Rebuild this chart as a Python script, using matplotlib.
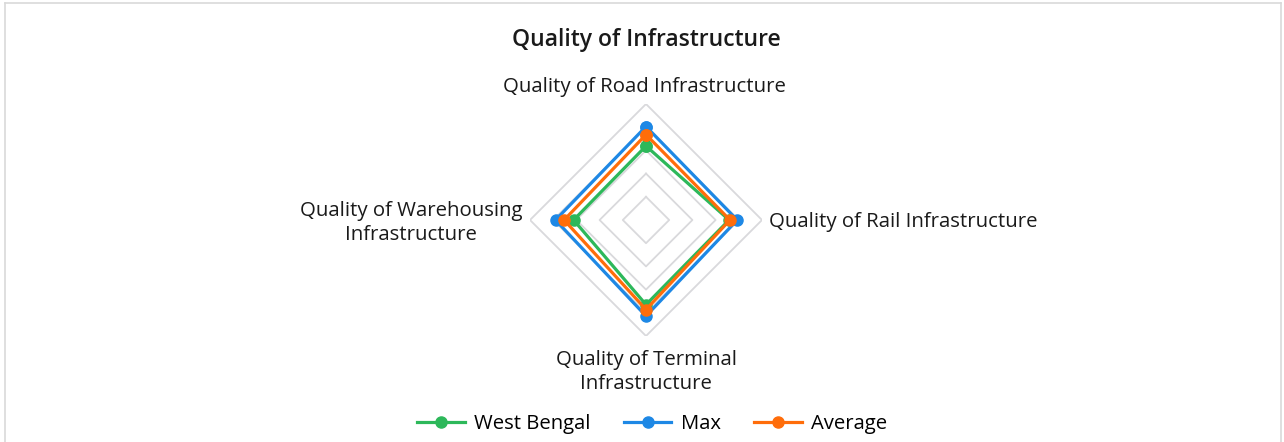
import numpy as np
import matplotlib
matplotlib.use("Agg")
import matplotlib.pyplot as plt
from matplotlib.lines import Line2D

categories = ["Quality of Road Infrastructure", "Quality of Rail Infrastructure",
              "Quality of Terminal\nInfrastructure", "Quality of Warehousing\nInfrastructure"]
west_bengal = [3.19, 3.58, 3.65, 3.12]
max_vals = [4.03, 3.93, 4.14, 3.90]
average = [3.68, 3.62, 3.86, 3.53]
series_names = ["West Bengal", "Max", "Average"]
colors = ["#2db85a", "#1e88e5", "#ff6d0a"]
ring_levels = [1, 2, 3, 4, 5]

plt.rcParams['font.family'] = ['Open Sans', 'DejaVu Sans']

W, H = 1284, 442
fig = plt.figure(figsize=(W / 100, H / 100), dpi=100)
cx, cy, R = 646, 220, 116
ax = fig.add_axes([(cx - R) / W, (H - cy - R) / H, 2 * R / W, 2 * R / H], projection='polar')
ax.set_theta_offset(np.pi / 2)
ax.set_theta_direction(-1)
ax.set_ylim(0, 5)
ax.grid(False)
ax.set_xticks([])
ax.set_yticks([])
ax.spines['polar'].set_visible(False)
ax.patch.set_alpha(0)

n = len(categories)
theta = np.linspace(0, 2 * np.pi, n, endpoint=False)
tc = np.append(theta, theta[0])
for lv in ring_levels:
    ax.plot(tc, [lv] * (n + 1), color="#d9d9dc", lw=1.3, zorder=1)

for vals, c, name in zip([west_bengal, max_vals, average], colors, series_names):
    v = np.append(vals, vals[0])
    ax.plot(tc, v, color=c, lw=2.3, marker='o', markersize=8, zorder=3, label=name)

# category labels
fs = 14.7
tcol = '#1a1a1a'
fig.text(644 / W, 1 - 87 / H, categories[0], ha='center', va='center', fontsize=fs, color=tcol)
fig.text(769 / W, 1 - 222 / H, categories[1], ha='left', va='center', fontsize=fs, color=tcol)
fig.text(646 / W, 1 - 372 / H, categories[2], ha='center', va='center', fontsize=fs, color=tcol,
         linespacing=1.27, multialignment='center')
fig.text(411 / W, 1 - 223 / H, categories[3], ha='center', va='center', fontsize=fs, color=tcol,
         linespacing=1.27, multialignment='center')

fig.text(646 / W, 1 - 40 / H, "Quality of Infrastructure", ha='center', va='center',
         fontsize=16.5, fontweight='semibold', color=tcol)

handles = [Line2D([0], [0], color=c, lw=2.3, marker='o', markersize=8) for c in colors]
fig.legend(handles, series_names, loc='center', bbox_to_anchor=(652 / W, 1 - 424 / H), ncol=3,
           frameon=False, fontsize=14.6, handlelength=2.35, columnspacing=1.65, handletextpad=0.45)

# chart border
border = dict(color='#d9d9d9', lw=1.2)
fig.add_artist(Line2D([5 / W, 1281 / W], [1 - 3 / H, 1 - 3 / H], transform=fig.transFigure, **border))
fig.add_artist(Line2D([5 / W, 5 / W], [0, 1 - 3 / H], transform=fig.transFigure, **border))
fig.add_artist(Line2D([1281 / W, 1281 / W], [0, 1 - 3 / H], transform=fig.transFigure, **border))

fig.savefig("out.png", dpi=100, facecolor='white')
